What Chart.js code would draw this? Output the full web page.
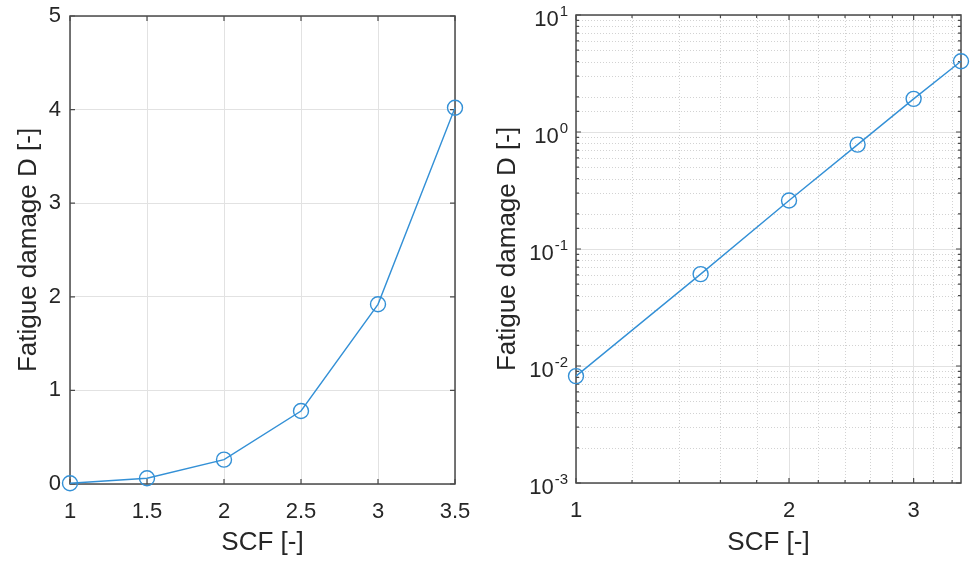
<!DOCTYPE html>
<html>
<head>
<meta charset="utf-8">
<script src="https://cdn.jsdelivr.net/npm/chart.js@4/dist/chart.umd.min.js"></script>
<style>
  body { margin: 0; background: #fff; }
  #wrap { position: relative; width: 970px; height: 565px; }
  #linChart { position: absolute; left: 0; top: 0; }
  #logChart { position: absolute; left: 480px; top: 0; }
</style>
</head>
<body>
<div id="wrap">
  <canvas id="linChart" width="480" height="565"></canvas>
  <canvas id="logChart" width="490" height="565"></canvas>
</div>
<script>
// SCF vs fatigue damage
var scf = [1, 1.5, 2, 2.5, 3, 3.5];
var damage = [0.0082, 0.061, 0.26, 0.78, 1.92, 4.02];

// tick positions for the log/log plot
var logXTicks = [1, 1.2, 1.4, 1.6, 1.8, 2, 2.2, 2.4, 2.6, 2.8, 3, 3.2, 3.4];
var logXLabels = [1, 2, 3];
var decades = [0.001, 0.01, 0.1, 1, 10];

var FONT = "'Liberation Sans', Arial, sans-serif";
var TEXT = '#262626';
var AXIS = '#4a4a4a';
var LINE = '#3390d6';
var GRID = '#e2e2e2';
var GRID_MINOR = '#d2d2d2';

function isDecade(v) {
    return decades.indexOf(v) !== -1 || Math.abs(Math.log10(v) - Math.round(Math.log10(v))) < 1e-9;
}

function isMajorTick(scale, v) {
    if (scale.type !== 'logarithmic') return true;
    if (scale.axis === 'x') return logXLabels.indexOf(Math.round(v * 10) / 10) !== -1;
    return isDecade(v);
}

// box round the plot area, inner tick marks, dotted minor grid
var axesBox = {
    id: 'axesBox',
    beforeDatasetsDraw: function(chart) {
        var ctx = chart.ctx, a = chart.chartArea;
        var xs = chart.scales.x, ys = chart.scales.y;
        ctx.save();
        ctx.strokeStyle = GRID_MINOR;
        ctx.lineWidth = 1;
        ctx.setLineDash([1, 2]);
        xs.ticks.forEach(function(t) {
            if (isMajorTick(xs, t.value)) return;
            var px = Math.round(xs.getPixelForValue(t.value)) + 0.5;
            ctx.beginPath(); ctx.moveTo(px, a.top); ctx.lineTo(px, a.bottom); ctx.stroke();
        });
        ys.ticks.forEach(function(t) {
            if (isMajorTick(ys, t.value)) return;
            var py = Math.round(ys.getPixelForValue(t.value)) + 0.5;
            ctx.beginPath(); ctx.moveTo(a.left, py); ctx.lineTo(a.right, py); ctx.stroke();
        });
        ctx.setLineDash([]);

        ctx.strokeStyle = AXIS;
        ctx.lineWidth = 1.2;
        xs.ticks.forEach(function(t) {
            var len = isMajorTick(xs, t.value) ? 5 : 3;
            var px = xs.getPixelForValue(t.value);
            ctx.beginPath();
            ctx.moveTo(px, a.bottom); ctx.lineTo(px, a.bottom - len);
            ctx.moveTo(px, a.top); ctx.lineTo(px, a.top + len);
            ctx.stroke();
        });
        ys.ticks.forEach(function(t) {
            var len = isMajorTick(ys, t.value) ? 5 : 3;
            var py = ys.getPixelForValue(t.value);
            ctx.beginPath();
            ctx.moveTo(a.left, py); ctx.lineTo(a.left + len, py);
            ctx.moveTo(a.right, py); ctx.lineTo(a.right - len, py);
            ctx.stroke();
        });

        ctx.lineWidth = 1.5;
        ctx.strokeRect(a.left, a.top, a.right - a.left, a.bottom - a.top);
        ctx.restore();
    },
    afterDraw: function(chart) {
        var ys = chart.scales.y;
        if (ys.type !== 'logarithmic') return;
        // 10^n labels with a raised exponent
        var ctx = chart.ctx, a = chart.chartArea;
        ctx.save();
        ctx.fillStyle = TEXT;
        ctx.textAlign = 'right';
        ctx.textBaseline = 'middle';
        decades.forEach(function(v) {
            var py = ys.getPixelForValue(v);
            var exp = String(Math.round(Math.log10(v)));
            var xr = a.left - 8;
            ctx.font = '15px ' + FONT;
            var w = ctx.measureText(exp).width;
            ctx.fillText(exp, xr, py - 3);
            ctx.font = '22px ' + FONT;
            ctx.fillText('10', xr - w - 1, py + 5);
        });
        ctx.restore();
    }
};

function makeDataset() {
    return {
        data: scf.map(function(x, i) { return { x: x, y: damage[i] }; }),
        borderColor: LINE,
        borderWidth: 1.4,
        pointStyle: 'circle',
        pointRadius: 7.5,
        pointHoverRadius: 7.5,
        pointBorderColor: LINE,
        pointBorderWidth: 1.4,
        pointBackgroundColor: 'rgba(0,0,0,0)',
        tension: 0,
        fill: false,
        clip: false
    };
}

function titleOpts(text, pad) {
    return { display: true, text: text, color: TEXT, font: { family: FONT, size: 26 }, padding: pad };
}

// fixed axis band sizes so the plot boxes sit where they should
function fixHeight(h) {
    return function(s) { s.height = h; s.paddingLeft = 0; s.paddingRight = 0; };
}
function fixWidth(w) {
    return function(s) { s.width = w; s.paddingTop = 0; s.paddingBottom = 0; };
}

var tickFont = { family: FONT, size: 22 };

new Chart(document.getElementById('linChart'), {
    type: 'line',
    data: { datasets: [makeDataset()] },
    options: {
        responsive: false,
        animation: false,
        devicePixelRatio: 1,
        layout: { padding: { left: 0, top: 16, right: 25, bottom: 0 } },
        plugins: { legend: { display: false }, tooltip: { enabled: false } },
        scales: {
            x: {
                type: 'linear', min: 1, max: 3.5,
                ticks: {
                    stepSize: 0.5, color: TEXT, font: tickFont, padding: 15, maxRotation: 0,
                    callback: function(v) { return String(v); }
                },
                grid: { color: GRID, drawTicks: false },
                border: { display: false },
                title: titleOpts('SCF [-]', { top: 0, bottom: 7 }),
                afterFit: fixHeight(81)
            },
            y: {
                type: 'linear', min: 0, max: 5,
                ticks: { stepSize: 1, color: TEXT, font: tickFont, padding: 9 },
                grid: { color: GRID, drawTicks: false },
                border: { display: false },
                title: titleOpts('Fatigue damage D [-]', { top: 13, bottom: 0 }),
                afterFit: fixWidth(70)
            }
        }
    },
    plugins: [axesBox]
});

new Chart(document.getElementById('logChart'), {
    type: 'line',
    data: { datasets: [makeDataset()] },
    options: {
        responsive: false,
        animation: false,
        devicePixelRatio: 1,
        layout: { padding: { left: 0, top: 15, right: 9, bottom: 0 } },
        plugins: { legend: { display: false }, tooltip: { enabled: false } },
        scales: {
            x: {
                type: 'logarithmic', min: 1, max: 3.5,
                afterBuildTicks: function(s) {
                    s.ticks = logXTicks.map(function(v) { return { value: v }; });
                },
                ticks: {
                    autoSkip: false, maxRotation: 0, color: TEXT, font: tickFont, padding: 15,
                    callback: function(v) {
                        var r = Math.round(v * 10) / 10;
                        return logXLabels.indexOf(r) !== -1 ? String(r) : '';
                    }
                },
                grid: {
                    drawTicks: false,
                    color: function(c) { return c.tick && isMajorTick(c.scale, c.tick.value) ? GRID : 'rgba(0,0,0,0)'; }
                },
                border: { display: false },
                title: titleOpts('SCF [-]', { top: 0, bottom: 7 }),
                afterFit: fixHeight(82)
            },
            y: {
                type: 'logarithmic', min: 0.001, max: 10,
                ticks: { display: false },
                grid: {
                    drawTicks: false,
                    color: function(c) { return c.tick && isDecade(c.tick.value) ? GRID : 'rgba(0,0,0,0)'; }
                },
                border: { display: false },
                title: titleOpts('Fatigue damage D [-]', { top: 12, bottom: 0 }),
                afterFit: fixWidth(96)
            }
        }
    },
    plugins: [axesBox]
});
</script>
</body>
</html>
